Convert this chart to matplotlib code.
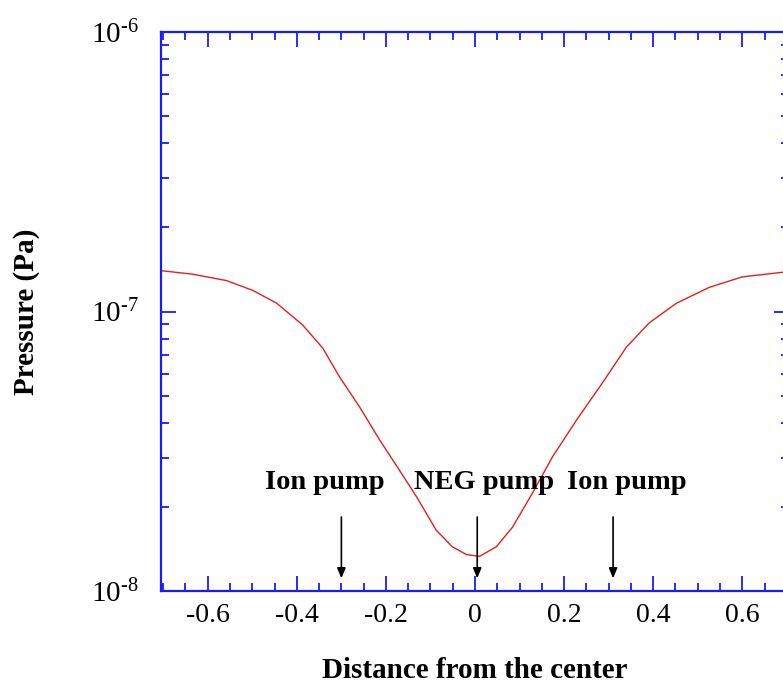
import numpy as np
import matplotlib as mpl
import matplotlib.pyplot as plt
from matplotlib.ticker import MultipleLocator, LogLocator, FixedLocator, NullFormatter

mpl.rcParams.update({"font.family": "Liberation Serif",
                     "mathtext.fontset": "custom",
                     "mathtext.rm": "Liberation Serif",
                     "axes.unicode_minus": False})

# pressure profile
dist = [-0.705, -0.634, -0.558, -0.499, -0.445, -0.387, -0.342, -0.304,
        -0.259, -0.214, -0.170, -0.131, -0.087, -0.051, -0.019, 0.010,
        0.048, 0.084, 0.129, 0.174, 0.228, 0.286, 0.340, 0.391,
        0.452, 0.526, 0.600, 0.705]
pressure = [1.40e-7, 1.36e-7, 1.29e-7, 1.19e-7, 1.07e-7, 8.95e-8, 7.40e-8, 5.83e-8,
            4.55e-8, 3.47e-8, 2.71e-8, 2.17e-8, 1.65e-8, 1.44e-8, 1.35e-8, 1.33e-8,
            1.44e-8, 1.69e-8, 2.24e-8, 3.02e-8, 4.09e-8, 5.55e-8, 7.46e-8, 9.10e-8,
            1.07e-7, 1.22e-7, 1.33e-7, 1.39e-7]

# pumps
pump_names = ['Ion pump', 'NEG pump', 'Ion pump']
pump_x = [-0.30, 0.005, 0.31]
label_x = [-0.338, 0.021, 0.340]

xticks = [-0.6, -0.4, -0.2, 0, 0.2, 0.4, 0.6]
xticklabels = ['-0.6', '-0.4', '-0.2', '0', '0.2', '0.4', '0.6']
ydecades = [1e-8, 1e-7, 1e-6]
yticklabels = [r'$\mathregular{10^{\text{-}8}}$', r'$\mathregular{10^{\text{-}7}}$',
               r'$\mathregular{10^{\text{-}6}}$']


def main():
    fig = plt.figure(figsize=(7.83, 6.88), dpi=100)
    ax = fig.add_axes([161/783, 1 - 591/688, 628/783, 559/688])

    ax.plot(dist, pressure, color='#e02020', lw=1.0)
    ax.set_yscale('log')
    ax.set_xlim(-0.705, 0.705)
    ax.set_ylim(1e-8, 1e-6)

    for name, px, lx in zip(pump_names, pump_x, label_x):
        ax.annotate('', xy=(px, 1.11e-8), xytext=(px, 1.84e-8),
                    arrowprops=dict(arrowstyle='-|>,head_width=0.25,head_length=0.6',
                                    color='black', lw=1.2, shrinkA=0, shrinkB=0))
        ax.text(lx, 2.32e-8, name, ha='center', va='baseline',
                fontsize=20.5, fontweight='bold')

    ax.xaxis.set_major_locator(FixedLocator(xticks))
    ax.set_xticklabels(xticklabels)
    ax.xaxis.set_minor_locator(MultipleLocator(0.05))
    ax.yaxis.set_major_locator(FixedLocator(ydecades))
    ax.set_yticklabels(yticklabels)
    ax.yaxis.set_minor_locator(LogLocator(base=10, subs=np.arange(2, 10)))
    ax.yaxis.set_minor_formatter(NullFormatter())

    for s in ax.spines.values():
        s.set_color('#1a1aff')
        s.set_linewidth(1.6)
    ax.tick_params(which='both', direction='in', top=True, right=True,
                   color='#1a1aff', width=1.3)
    ax.tick_params(which='major', length=11)
    ax.tick_params(which='minor', length=6)
    ax.tick_params(axis='x', which='major', labelsize=20, pad=9)
    ax.tick_params(axis='y', which='major', labelsize=21, pad=16)

    ax.set_xlabel('Distance from the center', fontsize=21, fontweight='bold', va='center')
    ax.xaxis.set_label_coords(0.5, -0.143)
    ax.set_ylabel('Pressure (Pa)', fontsize=21, fontweight='bold', va='center')
    ax.yaxis.set_label_coords(-0.2134, 0.5)

    fig.savefig('out.png', dpi=100)


if __name__ == '__main__':
    main()
